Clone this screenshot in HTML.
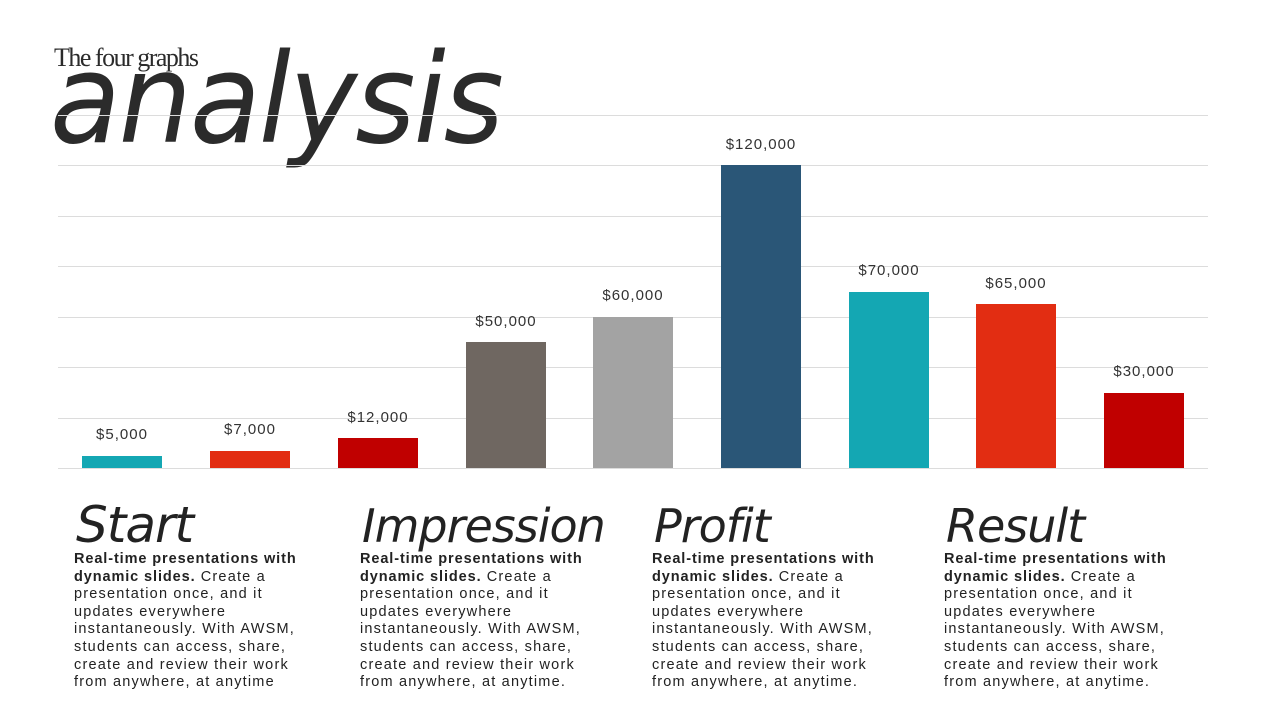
<!DOCTYPE html>
<html><head><meta charset="utf-8"><style>
body{margin:0;width:1280px;height:720px;background:#fff;position:relative;overflow:hidden;font-family:"Liberation Sans",sans-serif;color:#2b2b2b}
.g{position:absolute;left:58px;width:1150px;height:1px;background:#dcdcdc}
.b{position:absolute;width:80px;bottom:252px}
.l{position:absolute;width:120px;text-align:center;font-size:15px;letter-spacing:1px;color:#333}
.h{position:absolute;top:499px;font-family:"DejaVu Sans",sans-serif;font-style:italic;font-size:46px;font-weight:300;letter-spacing:-1px;color:#222}
.t{position:absolute;top:551px;width:280px;white-space:nowrap;font-size:14.5px;line-height:17.6px;letter-spacing:1.2px;color:#222}
.t b{font-weight:bold;letter-spacing:0.9px}
</style></head><body>
<div style="position:absolute;left:50px;top:28px;font-family:'DejaVu Sans',sans-serif;font-style:italic;font-size:124px;letter-spacing:-2px;color:#2b2b2b;transform:scaleX(0.93);transform-origin:left">analysis</div>
<div style="position:absolute;left:54px;top:43px;font-family:'Liberation Serif',serif;font-size:26px;letter-spacing:-1.5px;color:#2b2b2b">The four graphs</div>
<div class="g" style="top:115px"></div><div class="g" style="top:165px"></div><div class="g" style="top:216px"></div><div class="g" style="top:266px"></div><div class="g" style="top:317px"></div><div class="g" style="top:367px"></div><div class="g" style="top:418px"></div><div class="g" style="top:468px"></div>
<div class="b" style="left:82px;height:12px;background:#14a7b3"></div>
<div class="b" style="left:210px;height:17px;background:#e22d12"></div>
<div class="b" style="left:338px;height:30px;background:#c00000"></div>
<div class="b" style="left:466px;height:126px;background:#6f6761"></div>
<div class="b" style="left:593px;height:151px;background:#a3a3a3"></div>
<div class="b" style="left:721px;height:303px;background:#2a5677"></div>
<div class="b" style="left:849px;height:176px;background:#14a7b3"></div>
<div class="b" style="left:976px;height:164px;background:#e22d12"></div>
<div class="b" style="left:1104px;height:75px;background:#c00000"></div>
<div class="l" style="left:62px;top:426px">$5,000</div>
<div class="l" style="left:190px;top:421px">$7,000</div>
<div class="l" style="left:318px;top:409px">$12,000</div>
<div class="l" style="left:446px;top:313px">$50,000</div>
<div class="l" style="left:573px;top:287px">$60,000</div>
<div class="l" style="left:701px;top:136px">$120,000</div>
<div class="l" style="left:829px;top:262px">$70,000</div>
<div class="l" style="left:956px;top:275px">$65,000</div>
<div class="l" style="left:1084px;top:363px">$30,000</div>
<div class="h" style="left:76px;font-size:50px;top:496px">Start</div>
<div class="h" style="left:362px">Impression</div>
<div class="h" style="left:654px">Profit</div>
<div class="h" style="left:946px">Result</div>
<div class="t" style="left:74px"><b>Real-time presentations with<br>dynamic slides.</b> Create a<br>presentation once, and it<br>updates everywhere<br>instantaneously. With AWSM,<br>students can access, share,<br>create and review their work<br>from anywhere, at anytime</div>
<div class="t" style="left:360px"><b>Real-time presentations with<br>dynamic slides.</b> Create a<br>presentation once, and it<br>updates everywhere<br>instantaneously. With AWSM,<br>students can access, share,<br>create and review their work<br>from anywhere, at anytime.</div>
<div class="t" style="left:652px"><b>Real-time presentations with<br>dynamic slides.</b> Create a<br>presentation once, and it<br>updates everywhere<br>instantaneously. With AWSM,<br>students can access, share,<br>create and review their work<br>from anywhere, at anytime.</div>
<div class="t" style="left:944px"><b>Real-time presentations with<br>dynamic slides.</b> Create a<br>presentation once, and it<br>updates everywhere<br>instantaneously. With AWSM,<br>students can access, share,<br>create and review their work<br>from anywhere, at anytime.</div>
</body></html>
